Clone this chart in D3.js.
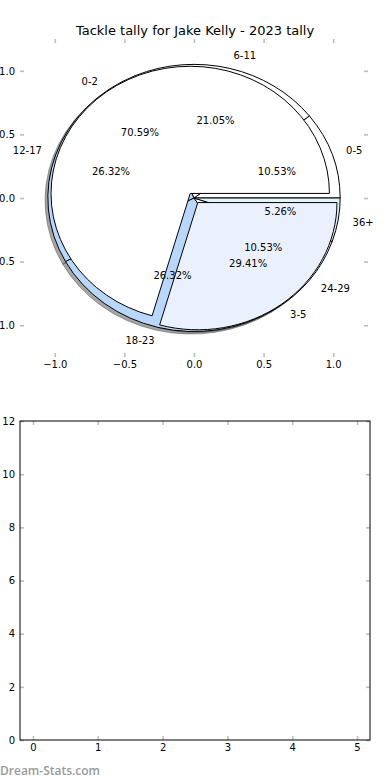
<!DOCTYPE html>
<html>
<head>
<meta charset="utf-8">
<script src="https://cdn.jsdelivr.net/npm/d3@7"></script>
<style>
  body { margin: 0; background: #fff; }
  text { font-family: "DejaVu Sans", sans-serif; }
</style>
</head>
<body>
<script>
// inner ring: short age buckets
const innerLabels = ["0-2", "3-5"];
const innerValues = [12, 5];
// outer ring: wider buckets
const outerLabels = ["0-5", "6-11", "12-17", "18-23", "24-29", "36+"];
const outerValues = [2, 4, 5, 5, 2, 1];

const pieTicks = [-1.0, -0.5, 0.0, 0.5, 1.0];
const gridXTicks = [0, 1, 2, 3, 4, 5];
const gridYTicks = [0, 2, 4, 6, 8, 10, 12];

const innerColors = ["#ffffff", "#eaf1fd"];
const outerColors = ["#ffffff", "#ffffff", "#b9d7fa", "#b9d7fa", "#ffffff", "#e1f5fb"];

const width = 390, height = 780;
const svg = d3.select("body").append("svg").attr("width", width).attr("height", height);

const tickGrey = "#bdbdbd";
const fmt1 = d3.format(".1f");

// ---------- top axes (pie) ----------
const px = d3.scaleLinear().domain([-1.25, 1.25]).range([20, 368]);
const py = d3.scaleLinear().domain([-1.25, 1.25]).range([357, 39]);

function styleAxis(g) {
  g.select(".domain").remove();
  g.selectAll(".tick line").attr("stroke", tickGrey).attr("stroke-width", 1.6);
  g.selectAll(".tick text").attr("fill", "#000").style("font-size", "10px")
    .style("font-family", "DejaVu Sans");
}

svg.append("g").attr("transform", "translate(0," + py(-1.25) + ")")
  .call(d3.axisBottom(px).tickValues(pieTicks).tickFormat(fmt1).tickSizeInner(-4).tickSizeOuter(0).tickPadding(4))
  .call(styleAxis);
svg.append("g").attr("transform", "translate(0," + py(1.25) + ")")
  .call(d3.axisTop(px).tickValues(pieTicks).tickFormat("").tickSizeInner(-4).tickSizeOuter(0))
  .call(styleAxis);
svg.append("g").attr("transform", "translate(" + px(-1.25) + ",0)")
  .call(d3.axisLeft(py).tickValues(pieTicks).tickFormat(fmt1).tickSizeInner(-4).tickSizeOuter(0).tickPadding(5))
  .call(styleAxis);
svg.append("g").attr("transform", "translate(" + px(1.25) + ",0)")
  .call(d3.axisRight(py).tickValues(pieTicks).tickFormat("").tickSizeInner(-4).tickSizeOuter(0))
  .call(styleAxis);

svg.append("text")
  .attr("x", width / 2).attr("y", 34.5)
  .attr("text-anchor", "middle")
  .style("font-size", "13px")
  .text("Tackle tally for Jake Kelly - 2023 tally");

const sx = px(1) - px(0);
const sy = py(0) - py(1);

// matplotlib style: counter-clockwise from 3 o'clock
const pie = d3.pie().sort(null).value(d => d.v)
  .startAngle(Math.PI / 2).endAngle(Math.PI / 2 - 2 * Math.PI);

function buildPie(labels, values, colors, radius, explode) {
  const total = d3.sum(values);
  const rows = labels.map((l, i) => ({label: l, v: values[i], color: colors[i]}));
  return pie(rows).map(a => {
    const mid = (a.startAngle + a.endAngle) / 2;
    const ux = Math.sin(mid), uy = Math.cos(mid);
    return Object.assign(a, {
      ux, uy, radius,
      cx: explode * ux, cy: explode * uy,
      pct: (a.data.v / total * 100).toFixed(2) + "%"
    });
  });
}

const outerPie = buildPie(outerLabels, outerValues, outerColors, 1.05, 0);
const innerPie = buildPie(innerLabels, innerValues, innerColors, 1.0, 0.045);

// shadows sit under every wedge, wedges under every text
const shadowLayer = svg.append("g");
const wedgeLayer = svg.append("g");
const texts = svg.append("g");

function drawWedges(slices) {
  const arc = d3.arc().innerRadius(0).outerRadius(slices[0].radius);
  shadowLayer.selectAll(null).data(slices).enter().append("path")
    .attr("d", arc)
    .attr("transform", d => "translate(" + px(d.cx - 0.02) + "," + py(d.cy - 0.02) + ") scale(" + sx + "," + sy + ")")
    .attr("fill", "#4d4d4d").attr("fill-opacity", 0.5)
    .attr("stroke", "#4d4d4d").attr("stroke-opacity", 0.5)
    .attr("vector-effect", "non-scaling-stroke");
  wedgeLayer.selectAll(null).data(slices).enter().append("path")
    .attr("d", arc)
    .attr("transform", d => "translate(" + px(d.cx) + "," + py(d.cy) + ") scale(" + sx + "," + sy + ")")
    .attr("fill", d => d.data.color)
    .attr("stroke", "#000").attr("stroke-width", 1)
    .attr("vector-effect", "non-scaling-stroke");
}

function drawTexts(slices) {
  texts.selectAll(null).data(slices).enter().append("text")
    .attr("x", d => px(d.cx + 1.1 * d.radius * d.ux))
    .attr("y", d => py(d.cy + 1.1 * d.radius * d.uy))
    .attr("text-anchor", d => d.ux > 0 ? "start" : "end")
    .attr("dominant-baseline", "central")
    .style("font-size", "10px")
    .text(d => d.data.label);
  texts.selectAll(null).data(slices).enter().append("text")
    .attr("x", d => px(d.cx + 0.6 * d.radius * d.ux))
    .attr("y", d => py(d.cy + 0.6 * d.radius * d.uy))
    .attr("text-anchor", "middle")
    .attr("dominant-baseline", "central")
    .style("font-size", "10px")
    .text(d => d.pct);
}

drawWedges(outerPie);
drawWedges(innerPie);
drawTexts(outerPie);
drawTexts(innerPie);

// ---------- bottom axes (empty) ----------
const bx = d3.scaleLinear().domain([-0.2, 5.2]).range([20, 370]);
const by = d3.scaleLinear().domain([0, 12]).range([740, 421]);

svg.append("g").attr("transform", "translate(0," + by(0) + ")")
  .call(d3.axisBottom(bx).tickValues(gridXTicks).tickFormat(d3.format("d")).tickSizeInner(-4).tickSizeOuter(0).tickPadding(4))
  .call(styleAxis);
svg.append("g").attr("transform", "translate(0," + by(12) + ")")
  .call(d3.axisTop(bx).tickValues(gridXTicks).tickFormat("").tickSizeInner(-4).tickSizeOuter(0))
  .call(styleAxis);
svg.append("g").attr("transform", "translate(" + bx(-0.2) + ",0)")
  .call(d3.axisLeft(by).tickValues(gridYTicks).tickFormat(d3.format("d")).tickSizeInner(-4).tickSizeOuter(0).tickPadding(5))
  .call(styleAxis);
svg.append("g").attr("transform", "translate(" + bx(5.2) + ",0)")
  .call(d3.axisRight(by).tickValues(gridYTicks).tickFormat("").tickSizeInner(-4).tickSizeOuter(0))
  .call(styleAxis);

svg.append("rect")
  .attr("x", bx(-0.2)).attr("y", by(12))
  .attr("width", bx(5.2) - bx(-0.2)).attr("height", by(0) - by(12))
  .attr("fill", "none").attr("stroke", "#000").attr("stroke-width", 1);

svg.append("text")
  .attr("x", 0).attr("y", 775)
  .style("font-family", "'Open Sans', sans-serif")
  .style("font-weight", 600)
  .style("font-size", "12px")
  .attr("fill", "#9a9a9a")
  .text("Dream-Stats.com");
</script>
</body>
</html>
